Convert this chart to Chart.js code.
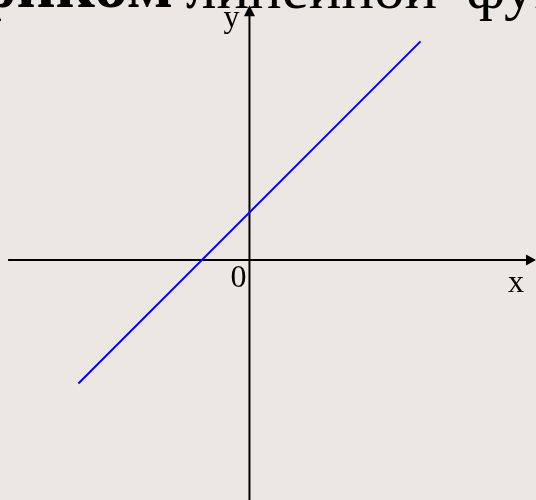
<!DOCTYPE html>
<html>
<head>
<meta charset="utf-8">
<script src="https://cdn.jsdelivr.net/npm/chart.js@4"></script>
<style>
  html, body { margin: 0; padding: 0; background: #ece7e3; overflow: hidden; }
  canvas { display: block; }
</style>
</head>
<body>
<canvas id="lineChart" width="536" height="500"></canvas>
<script>
// y = x + 1, drawn between two end points
var lineX = [-3.6, 3.6]
var lineY = [-2.6, 4.6]

// visible window of the coordinate plane
var xRange = [-5.25, 6.03]
var yRange = [-5.05, 5.47]

// where the axes start and end (arrow tips)
var xAxisSpan = [-5.08, 6.03]
var yAxisSpan = [-5.05, 5.36]

var axisLabels = ['x', 'y', '0']

// axes with arrows, axis names and the heading text
var planePlugin = {
    id: 'plane',
    beforeDatasetsDraw: function (chart) {
        var c = chart.ctx
        var sx = chart.scales.x, sy = chart.scales.y
        var ox = sx.getPixelForValue(0), oy = sy.getPixelForValue(0)
        var x0 = sx.getPixelForValue(xAxisSpan[0]), x1 = sx.getPixelForValue(xAxisSpan[1])
        var y0 = sy.getPixelForValue(yAxisSpan[0]), y1 = sy.getPixelForValue(yAxisSpan[1])

        c.save()
        c.strokeStyle = '#000'
        c.fillStyle = '#000'
        c.lineWidth = 2
        c.beginPath()
        c.moveTo(x0, oy); c.lineTo(x1 - 8, oy)
        c.moveTo(ox, y0); c.lineTo(ox, y1 + 8)
        c.stroke()
        // arrow heads
        c.beginPath()
        c.moveTo(x1, oy); c.lineTo(x1 - 10, oy - 5.5); c.lineTo(x1 - 10, oy + 5.5); c.closePath()
        c.moveTo(ox, y1); c.lineTo(ox - 5.5, y1 + 11); c.lineTo(ox + 5.5, y1 + 11); c.closePath()
        c.fill()

        c.font = '32px "Liberation Serif"'
        c.textBaseline = 'alphabetic'
        c.textAlign = 'left'
        c.fillText(axisLabels[0], 508, 292)
        c.fillText(axisLabels[1], ox - 26, 27)
        c.fillText(axisLabels[2], ox - 19, 287)

        // heading, partly off the top of the picture
        c.font = 'bold 68px "Liberation Serif"'
        c.textAlign = 'right'
        c.fillText('Графиком', 173, 7)
        c.textAlign = 'left'
        c.font = '61px "Liberation Serif"'
        c.fillText('линейной', 186, 8)
        c.fillText('функции', 466, 8)
        c.restore()
    }
}

var ctx = document.getElementById('lineChart').getContext('2d')
var chart = new Chart(ctx, {
    type: 'scatter',
    data: {
        datasets: [{
            data: lineX.map(function (x, i) { return {x: x, y: lineY[i]} }),
            showLine: true,
            borderColor: '#0000ff',
            borderWidth: 2,
            pointRadius: 0,
            fill: false
        }]
    },
    options: {
        responsive: false,
        animation: false,
        devicePixelRatio: 1,
        layout: {padding: 0},
        plugins: {legend: {display: false}, tooltip: {enabled: false}},
        scales: {
            x: {type: 'linear', min: xRange[0], max: xRange[1], display: false},
            y: {type: 'linear', min: yRange[0], max: yRange[1], display: false}
        }
    },
    plugins: [planePlugin]
});
</script>
</body>
</html>
